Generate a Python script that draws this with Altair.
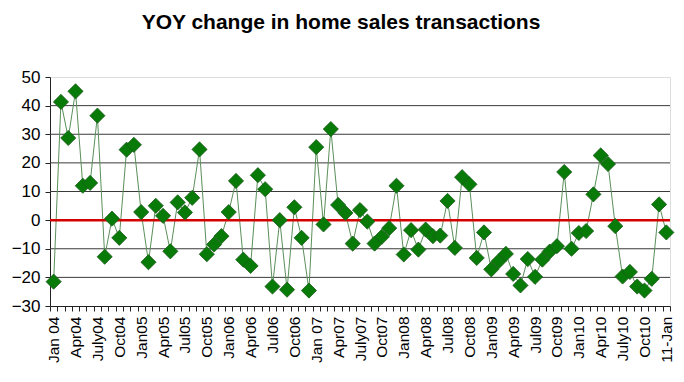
import altair as alt
import pandas as pd

# YOY change (%) in home sales transactions, monthly Jan 2004 .. Jan 2011
yoy = [-21.5, 41.3, 28.7, 45.0, 12.0, 13.0, 36.5, -12.8, 0.5, -6.2, 24.6, 26.3,
       2.8, -14.7, 5.0, 1.5, -10.9, 6.2, 2.7, 7.8, 24.7, -11.9, -8.5, -5.6,
       2.8, 13.7, -13.8, -16.0, 15.7, 10.8, -23.2, 0.0, -24.3, 4.5, -6.2, -24.6,
       25.5, -1.5, 31.8, 5.3, 2.5, -8.2, 3.5, -0.5, -8.2, -5.8, -2.8, 12.0,
       -12.0, -3.5, -10.3, -3.3, -5.6, -5.4, 6.7, -9.7, 15.0, 12.5, -13.2, -4.3,
       -17.2, -14.4, -11.8, -18.8, -22.8, -13.6, -19.8, -13.8, -11.0, -9.1, 16.8, -10.0,
       -4.5, -3.8, 9.0, 22.6, 19.6, -2.1, -19.7, -18.1, -23.2, -24.6, -20.5, 5.5,
       -4.3]

# quarterly category labels (every 3rd month)
tick_labels = ["Jan 04", "Apr04", "July04", "Oct04", "Jan05", "Apr05", "Jul05", "Oct05",
               "Jan06", "Apr06", "Jul06", "Oct06", "Jan 07", "Apr07", "July07", "Oct07",
               "Jan08", "Apr08", "Jul08", "Oct08", "Jan09", "Apr09", "Jul09", "Oct09",
               "Jan10", "Apr10", "July10", "Oct10", "11-Jan"]

y_ticks = [-30, -20, -10, 0, 10, 20, 30, 40, 50]
grid_vals = [-20, -10, 10, 20, 30, 40]
zero_line = [0]

n = len(yoy)
df = pd.DataFrame({"idx": list(range(n)), "yoy": yoy})
lab_arr = [""] * (n + 1)
for k, t in enumerate(tick_labels):
    lab_arr[3 * k] = t
lab_js = "[" + ",".join("'" + s + "'" for s in lab_arr) + "]"

FONT = "Liberation Sans"
W, H = 620, 229
step = W / n

xscale = alt.Scale(domain=[-0.5, n - 0.5], nice=False, zero=False)
yscale = alt.Scale(domain=[-30, 50], nice=False, zero=False)

x_axis = alt.Axis(
    values=[i - 0.5 for i in range(n + 1)],
    labelExpr=lab_js + "[round(datum.value + 0.5)]",
    labelOffset=step / 2,
    labelAngle=-90, labelAlign="right", labelBaseline="middle",
    labelOverlap=False, labelFlush=False,
    labelFontSize=15.5, labelFont=FONT, labelColor="black", labelPadding=5,
    tickSize=5, tickColor="#222222", domainColor="#222222",
    grid=False, title=None,
)
y_axis = alt.Axis(
    values=y_ticks, labelOverlap=False, labelFlush=False,
    labelFontSize=17, labelFont=FONT, labelColor="black",
    labelPadding=5, tickSize=5, tickColor="#222222", domainColor="#222222",
    grid=False, title=None,
)

X = dict(scale=xscale, axis=x_axis)
Y = dict(scale=yscale, axis=y_axis)

grid = alt.Chart(pd.DataFrame({"g": grid_vals})).mark_rule(
    color="#3a3a3a", strokeWidth=1
).encode(y=alt.Y("g:Q", **Y))

zero = alt.Chart(pd.DataFrame({"z": zero_line})).mark_rule(
    color="#d40000", strokeWidth=2.5
).encode(y=alt.Y("z:Q", **Y))

base = alt.Chart(df)
line = base.mark_line(color="#5a8f5a", strokeWidth=1).encode(
    x=alt.X("idx:Q", **X),
    y=alt.Y("yoy:Q", **Y),
)
pts = base.mark_point(shape="diamond", filled=True, size=230, opacity=1,
                      fill="#077a07", stroke="#1d5a1d", strokeWidth=0.8).encode(
    x=alt.X("idx:Q", **X),
    y=alt.Y("yoy:Q", **Y),
)

chart = alt.layer(grid, line, zero, pts).properties(
    width=W, height=H,
    title=alt.TitleParams(
        "YOY change in home sales transactions",
        font=FONT, fontSize=21, fontWeight="bold", color="black",
        anchor="middle", offset=35, dx=-19,
    ),
    autosize=alt.AutoSizeParams(type="none"),
    padding={"left": 42, "top": 69, "right": 6, "bottom": 62},
).configure_view(stroke=None).configure(background="white")

chart.save("out.html", embed_options={"renderer": "svg", "actions": False})
